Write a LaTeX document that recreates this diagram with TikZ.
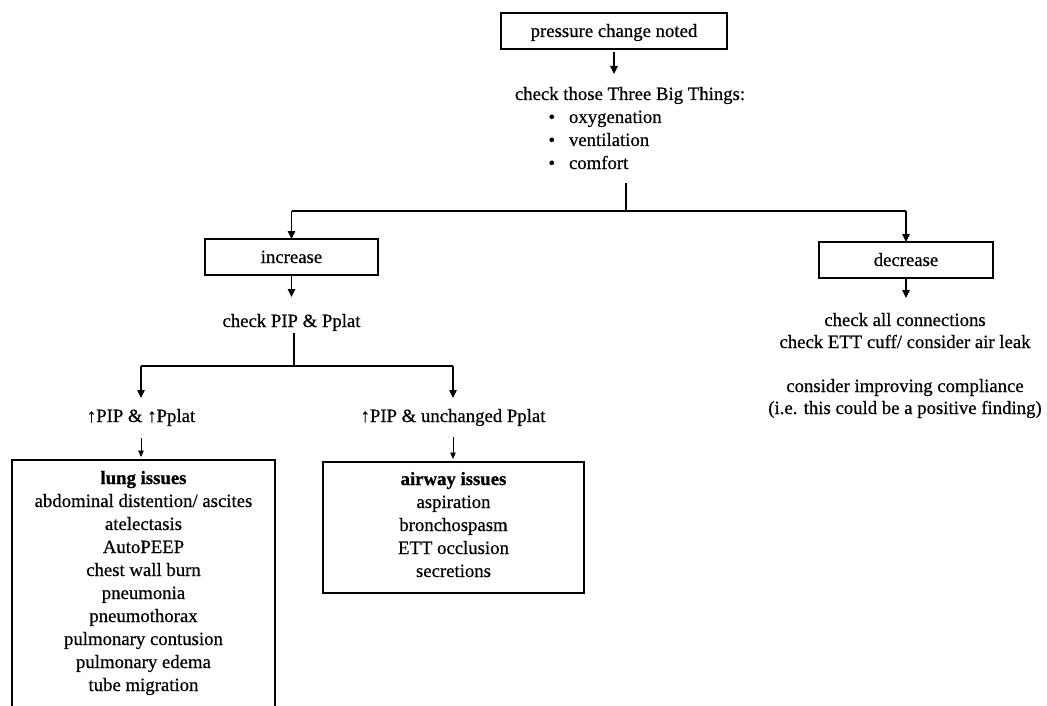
\documentclass[tikz,border=0pt]{standalone}
\usepackage{fontspec}
\setmainfont{Liberation Serif}[UprightFeatures={FakeBold=0.5}, BoldFeatures={FakeBold=1.0}]
\usetikzlibrary{arrows.meta}
\begin{document}
\begin{tikzpicture}[x=1pt,y=-1pt,
  every node/.style={font=\fontsize{18.75pt}{23pt}\selectfont, inner sep=0pt, outer sep=0pt},
  box/.style={draw, line width=1.4pt, text height=24pt, text depth=12pt},
  listbox/.style={draw, line width=1.4pt, align=center, anchor=north},
  txt/.style={text height=13pt, text depth=4pt, anchor=base},
  flow/.style={line width=1.4pt},
  arr/.style={flow, -{Triangle[length=8pt,width=7.5pt]}},
  smallarr/.style={line width=0.9pt, -{Triangle[length=6.5pt,width=5.5pt]}},
]
\useasboundingbox[fill=white] (0,0) rectangle (1047,706);
\clip (0,0) rectangle (1047,706);

% top of the chart
\node[box, minimum width=226pt] (noted) at (614,31) {pressure change noted};
\node[txt] (things) at (630,100) {check those Three Big Things:};
\node[txt, anchor=base west] (oxy)  at (548.5,123) {\makebox[20.5pt][l]{•}oxygenation};
\node[txt, anchor=base west] (vent) at (548.5,146) {\makebox[20.5pt][l]{•}ventilation};
\node[txt, anchor=base west] (comf) at (548.5,169) {\makebox[20.5pt][l]{•}comfort};
\coordinate (fork1) at (626,211);

% the two branches
\node[box, minimum width=173pt] (inc) at (291.5,257) {increase};
\node[box, minimum width=174pt] (dec) at (906,260) {decrease};

% increase branch
\node[txt] (pip) at (291.5,327) {check PIP \& Pplat};
\coordinate (fork2) at (294,366);
\node[txt] (both) at (141,422) {↑PIP \& ↑Pplat};
\node[txt] (peak) at (453,422) {↑PIP \& unchanged Pplat};

\node[listbox, minimum width=263pt] (lung) at (143.5,460)
  {\rule{0pt}{24pt}\textbf{lung issues}\\
   abdominal distention/ ascites\\
   atelectasis\\
   AutoPEEP\\
   chest wall burn\\
   pneumonia\\
   pneumothorax\\
   pulmonary contusion\\
   pulmonary edema\\
   tube migration\rule[-30pt]{0pt}{30pt}};

\node[listbox, minimum width=261pt] (airway) at (453.5,462)
  {\rule{0pt}{23pt}\textbf{airway issues}\\
   aspiration\\
   bronchospasm\\
   ETT occlusion\\
   secretions\rule[-16pt]{0pt}{16pt}};

% decrease branch
\node[align=center, anchor=north, font=\fontsize{18.75pt}{22pt}\selectfont] (dectext) at (905,313)
  {\rule{0pt}{13pt}check all connections\\
   check ETT cuff/ consider air leak\\[22pt]
   consider improving compliance\\
   (i.e. this could be a positive finding)};

% connectors
\draw[arr, shorten <=3pt, shorten >=13pt] (noted.south) -- (noted.south |- things.north);
\draw[flow, shorten <=10pt] (fork1 |- comf.south) -- (fork1);
\draw[flow] (inc.north |- fork1) -- (dec.north |- fork1);
\draw[arr] (inc.north |- fork1) -- (inc.north);
\draw[arr] (dec.north |- fork1) -- (dec.north);

\draw[arr, shorten >=17pt] (inc.south) -- (pip.north);
\draw[flow, shorten <=2pt] (fork2 |- pip.south) -- (fork2);
\draw[flow] (both.north |- fork2) -- (peak.north |- fork2);
\draw[arr, shorten >=11pt] (both.north |- fork2) -- (both.north);
\draw[arr, shorten >=11pt] (peak.north |- fork2) -- (peak.north);
\draw[smallarr, shorten <=12pt, shorten >=3pt] (both.south) -- (both.south |- lung.north);
\draw[smallarr, shorten <=11pt, shorten >=3pt] (peak.south) -- (peak.south |- airway.north);

\draw[arr, shorten >=15pt] (dec.south) -- (dec.south |- dectext.north);
\end{tikzpicture}
\end{document}
